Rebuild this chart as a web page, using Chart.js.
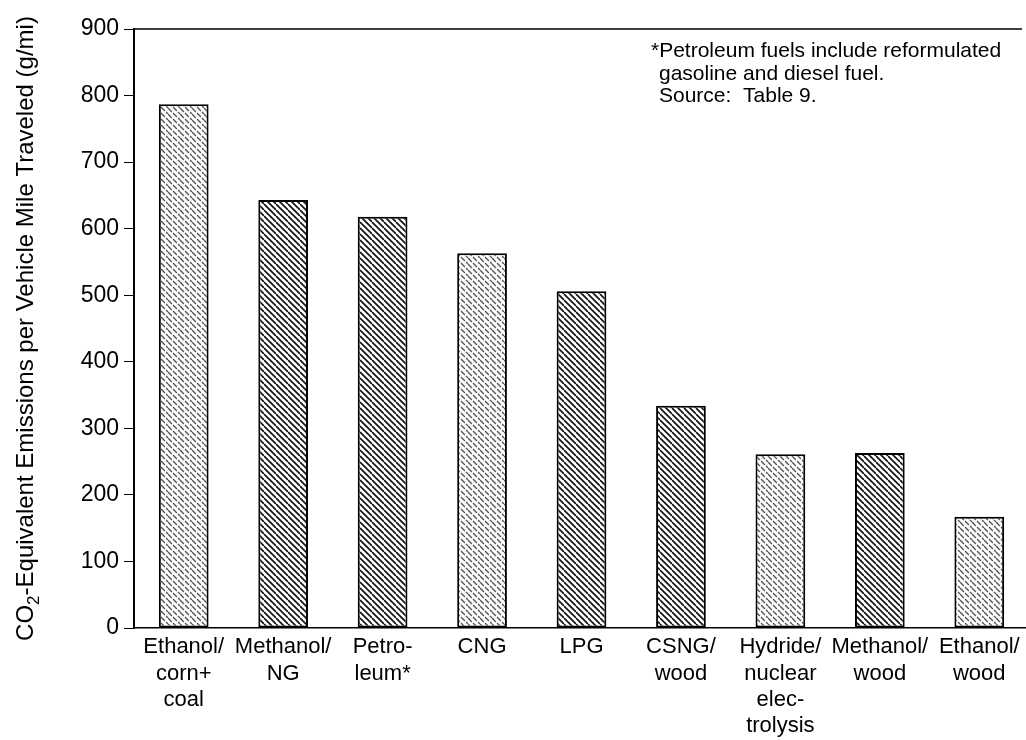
<!DOCTYPE html>
<html><head><meta charset="utf-8">
<script src="https://cdn.jsdelivr.net/npm/chart.js@4/dist/chart.umd.min.js"></script>
<style>
html,body{margin:0;padding:0;background:#fff;overflow:hidden;width:1026px;height:740px}
#wrap{width:1040px;height:740px;position:relative}
</style></head>
<body><div id="wrap"><canvas id="c" width="1040" height="740"></canvas></div>
<script>
// ---- data ----
const categories = [
  ["Ethanol/", "corn+", "coal"],
  ["Methanol/", "NG"],
  ["Petro-", "leum*"],
  ["CNG"],
  ["LPG"],
  ["CSNG/", "wood"],
  ["Hydride/", "nuclear", "elec-", "trolysis"],
  ["Methanol/", "wood"],
  ["Ethanol/", "wood"]
];
const emissions = [787, 643, 618, 563, 506, 334, 261, 263, 167];
const yTickValues = [0, 100, 200, 300, 400, 500, 600, 700, 800, 900];
const hatchKinds = ["light", "dense", "dense", "light", "dense", "dense", "light", "dense", "light"];
const yTitleParts = ["CO", "2", "-Equivalent Emissions per Vehicle Mile Traveled (g/mi)"];
const noteLines = ["*Petroleum fuels include reformulated", "gasoline and diesel fuel.", "Source:  Table 9."];

// ---- patterns ----
function makeHatch(kind) {
  const s = 6;
  const t = document.createElement('canvas');
  t.width = s * 2; t.height = s * 2;
  const g = t.getContext('2d');
  g.fillStyle = '#fff'; g.fillRect(0, 0, t.width, t.height);
  g.strokeStyle = kind === 'dense' ? '#111' : '#555';
  g.lineWidth = kind === 'dense' ? 1.7 : 1.4;
  g.lineCap = 'butt';
  if (kind !== 'dense') g.setLineDash([5.5, 1.6]);
  for (let k = -2; k <= 2; k++) {
    g.beginPath();
    g.moveTo(0, k * s);
    g.lineTo(2 * s, 2 * s + k * s);
    g.stroke();
  }
  return document.getElementById('c').getContext('2d').createPattern(t, 'repeat');
}
const fills = hatchKinds.map(makeHatch);

const FONT = "'Liberation Sans', Arial, Helvetica, sans-serif";

const extras = {
  id: 'extras',
  afterDraw(chart) {
    const ctx = chart.ctx, a = chart.chartArea;
    ctx.save();
    // top frame line
    ctx.strokeStyle = '#000'; ctx.lineWidth = 1.5;
    ctx.beginPath(); ctx.moveTo(a.left, a.top); ctx.lineTo(1022, a.top); ctx.stroke();
    // note text
    ctx.fillStyle = '#000';
    ctx.textBaseline = 'alphabetic';
    ctx.textAlign = 'left';
    ctx.font = "21px " + FONT;
    ctx.fillText(noteLines[0], 651, 57);
    ctx.fillText(noteLines[1], 659, 80);
    ctx.fillText(noteLines[2], 659, 102);
    // y title with subscript
    const big = "24px " + FONT, small = "17px " + FONT;
    ctx.font = big; const w0 = ctx.measureText(yTitleParts[0]).width;
    ctx.font = small; const w1 = ctx.measureText(yTitleParts[1]).width;
    ctx.font = big; const w2 = ctx.measureText(yTitleParts[2]).width;
    const total = w0 + w1 + w2;
    ctx.translate(33, (a.top + a.bottom) / 2);
    ctx.rotate(-Math.PI / 2);
    let x = -total / 2;
    ctx.font = big; ctx.fillText(yTitleParts[0], x, 0); x += w0;
    ctx.font = small; ctx.fillText(yTitleParts[1], x, 6); x += w1;
    ctx.font = big; ctx.fillText(yTitleParts[2], x, 0);
    ctx.restore();
  }
};

new Chart(document.getElementById('c'), {
  type: 'bar',
  data: {
    labels: categories,
    datasets: [{
      data: emissions,
      backgroundColor: fills,
      borderColor: '#000',
      borderWidth: 2,
      borderSkipped: false,
      categoryPercentage: 1.0,
      barPercentage: 0.5
    }]
  },
  options: {
    responsive: false,
    animation: false,
    devicePixelRatio: 1,
    layout: { padding: { left: 0, right: 11, top: 29, bottom: 0 } },
    plugins: { legend: { display: false }, tooltip: { enabled: false }, title: { display: false } },
    scales: {
      x: {
        grid: { display: false },
        border: { display: true, color: '#000', width: 1.5 },
        ticks: {
          color: '#000', padding: -2, maxRotation: 0, autoSkip: false,
          font: { family: FONT, size: 22, lineHeight: 1.2 }
        },
        afterFit(s) { s.height = 112; }
      },
      y: {
        min: 0, max: 900,
        afterBuildTicks(s) { s.ticks = yTickValues.map(v => ({ value: v })); },
        grid: { drawOnChartArea: false, drawTicks: true, tickLength: 10, color: '#000', lineWidth: 1 },
        border: { display: true, color: '#000', width: 2 },
        ticks: {
          color: '#000', padding: 5,
          font: { family: FONT, size: 23 }
        },
        afterFit(s) { s.width = 134; }
      }
    }
  },
  plugins: [extras]
});
</script>
</body></html>
